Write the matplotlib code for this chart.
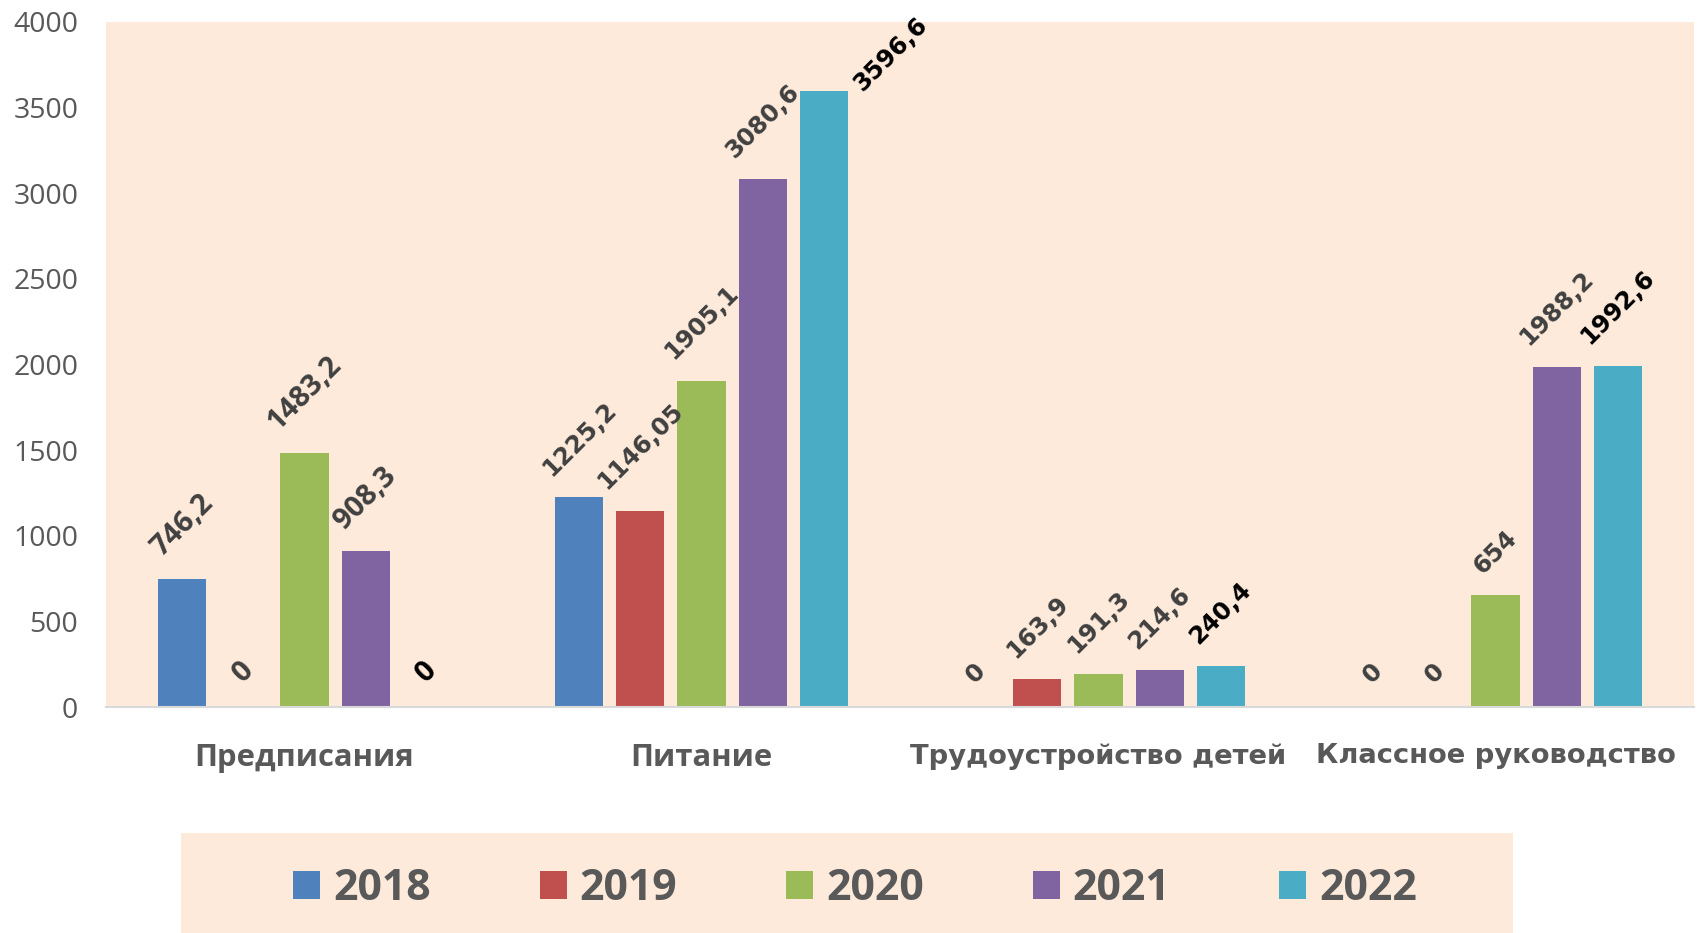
import numpy as np
import matplotlib.pyplot as plt
from matplotlib.patches import Rectangle

categories = ["Предписания", "Питание", "Трудоустройство детей", "Классное руководство"]
years = ["2018", "2019", "2020", "2021", "2022"]
v2018 = [746.2, 1225.2, 0, 0]
v2019 = [0, 1146.05, 163.9, 0]
v2020 = [1483.2, 1905.1, 191.3, 654]
v2021 = [908.3, 3080.6, 214.6, 1988.2]
v2022 = [0, 3596.6, 240.4, 1992.6]
series = [v2018, v2019, v2020, v2021, v2022]
yticks = [0, 500, 1000, 1500, 2000, 2500, 3000, 3500, 4000]

colors = ["#4F81BD", "#C0504D", "#9BBB59", "#8064A2", "#4BACC6"]
label_colors = ["#404040", "#404040", "#404040", "#404040", "#000000"]
# the source mixes two typefaces: Calibri-like for the first group, Verdana-like for the rest
cat_fonts = ["Open Sans", "Open Sans", "DejaVu Sans", "DejaVu Sans"]
val_fonts = ["Open Sans", "DejaVu Sans", "DejaVu Sans", "DejaVu Sans"]
val_sizes = [21, 17.5, 17.5, 17.5]
bg = "#FDEADA"
grey = "#595959"

fig = plt.figure(figsize=(17, 9.33), dpi=100)
ax = fig.add_axes([106 / 1700, 1 - 707 / 933, 1588 / 1700, (707 - 22) / 933])
ax.set_facecolor(bg)

x = np.arange(len(categories))
step = 0.154
width = 0.121
bars = []
for i, vals in enumerate(series):
    xs = x + (i - 2) * step
    b = ax.bar(xs, vals, width=width, color=colors[i], label=years[i], zorder=2)
    bars.append(b)
    for j, v in enumerate(vals):
        txt = f"{v:g}".replace(".", ",")
        kw = dict(rotation=45, fontweight="bold", color=label_colors[i],
                  family=val_fonts[j], fontsize=val_sizes[j],
                  textcoords="offset points", annotation_clip=False)
        if v > 3400:
            # no room above, Excel pushes the label to the right of the bar
            ax.annotate(txt, (xs[j] + width / 2, v), xytext=(1, -3),
                        ha="left", va="bottom", **kw)
        else:
            ax.annotate(txt, (xs[j], v), xytext=(0, 14 if v == 0 else 12),
                        ha="center", va="bottom", **kw)

ax.set_xlim(-0.5, len(categories) - 0.5)
ax.set_ylim(0, 4000)
ax.set_yticks(yticks)
ax.set_yticklabels([str(t) for t in yticks], family="Open Sans", fontsize=20.5, color=grey)
ax.set_xticks(x)
ax.set_xticklabels(categories)
for lab, fam in zip(ax.get_xticklabels(), cat_fonts):
    lab.set_family(fam)
    lab.set_fontweight("bold")
    lab.set_color(grey)
    lab.set_fontsize(22.3 if fam == "Open Sans" else 19.7)
ax.tick_params(axis="y", length=0, pad=20)
ax.tick_params(axis="x", length=0, pad=26)

for s in ["top", "left", "right"]:
    ax.spines[s].set_visible(False)
ax.spines["bottom"].set_color("#D9D9D9")
ax.spines["bottom"].set_linewidth(1.5)
ax.spines["bottom"].set_zorder(3)

# legend box
fig.patches.append(Rectangle((181 / 1700, 0), 1332 / 1700, 100 / 933,
                             transform=fig.transFigure, facecolor=bg,
                             edgecolor="none", zorder=0))
leg = fig.legend(handles=bars, labels=years, loc="center",
                 bbox_to_anchor=(855 / 1700, 44 / 933), ncol=5, frameon=False,
                 prop={"family": "Open Sans", "weight": "bold", "size": 30.8},
                 labelcolor=grey, handlelength=0.63, handleheight=0.63,
                 handletextpad=0.3, columnspacing=2.55)

fig.savefig("out.png", dpi=100)
